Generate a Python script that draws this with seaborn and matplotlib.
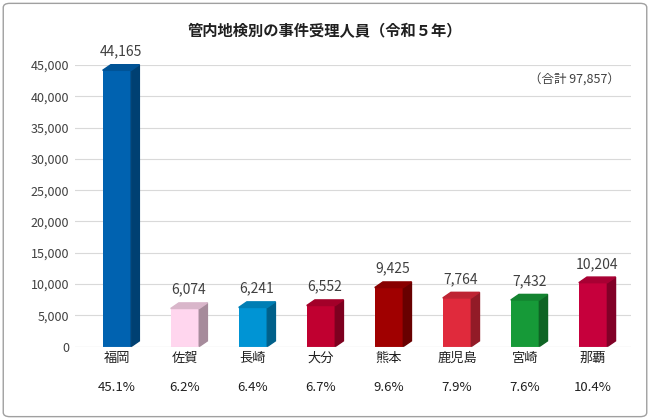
import matplotlib
matplotlib.use("Agg")
import matplotlib.pyplot as plt
import seaborn as sns
import pandas as pd
from matplotlib.patches import Polygon, FancyBboxPatch
import matplotlib.colors as mc

plt.rcParams["font.family"] = ["Noto Sans CJK JP"]

categories = ["福岡", "佐賀", "長崎", "大分", "熊本", "鹿児島", "宮崎", "那覇"]
values = [44165, 6074, 6241, 6552, 9425, 7764, 7432, 10204]
shares = ["45.1%", "6.2%", "6.4%", "6.7%", "9.6%", "7.9%", "7.6%", "10.4%"]
colors = ["#0062B0", "#FFD6EE", "#0094D4", "#C00030", "#A00000", "#E02A3C", "#169A38", "#C6003C"]
total_label = "（合計 97,857）"

df = pd.DataFrame({"cat": categories, "val": values})
fig = plt.figure(figsize=(6.5, 4.2), dpi=100)
ax = fig.add_axes([0.115, 0.175, 0.855, 0.67])
sns.barplot(data=df, x="cat", y="val", hue="cat", palette=colors, legend=False,
            width=0.42, ax=ax, saturation=1)
ax.set_xlim(-0.62, 7.55)
ax.set_ylim(0, 45000)

dx, dy = 0.12, 900
for p, c in zip(ax.patches, colors):
    x0, w, h = p.get_x(), p.get_width(), p.get_height()
    dark = [v * 0.65 for v in mc.to_rgb(c)]
    mid = [v * 0.85 for v in mc.to_rgb(c)]
    ax.add_patch(Polygon([(x0 + w, 0), (x0 + w + dx, dy), (x0 + w + dx, h + dy), (x0 + w, h)],
                         closed=True, color=dark, clip_on=False))
    ax.add_patch(Polygon([(x0, h), (x0 + dx, h + dy), (x0 + w + dx, h + dy), (x0 + w, h)],
                         closed=True, color=mid, clip_on=False))
    ax.text(x0 + w / 2 + dx / 2, h + dy + 1000, f"{int(h):,}", ha="center", va="bottom",
            fontsize=10, color="#404040")

ax.set_yticks(range(0, 45001, 5000))
ax.set_yticklabels([f"{v:,}" for v in range(0, 45001, 5000)], fontsize=9, color="#404040")
ax.set_xticks(range(len(categories)))
ax.set_xticklabels([f"{c}\n{s}" for c, s in zip(categories, shares)], fontsize=9.5,
                   color="#202020", ha="center", linespacing=2.6)
ax.tick_params(length=0, pad=4)
ax.set_xlabel("")
ax.set_ylabel("")
ax.yaxis.grid(True, color="#D9D9D9", linewidth=0.8)
ax.set_axisbelow(True)
for s in ax.spines.values():
    s.set_visible(False)
ax.axhline(0, color="#D9D9D9", linewidth=0.8)

fig.text(0.5, 0.925, "管内地検別の事件受理人員（令和５年）", ha="center", va="center",
         fontsize=11, fontweight="bold", color="#202020")
ax.text(0.98, 0.97, total_label, transform=ax.transAxes, ha="right", va="top",
        fontsize=9, color="#404040")
fig.patches.append(FancyBboxPatch((0.005, 0.008), 0.99, 0.984, boxstyle="round,pad=0,rounding_size=0.01",
                                  transform=fig.transFigure, fill=False, edgecolor="#A0A0A0", linewidth=1))
fig.savefig("out.png", dpi=100)
